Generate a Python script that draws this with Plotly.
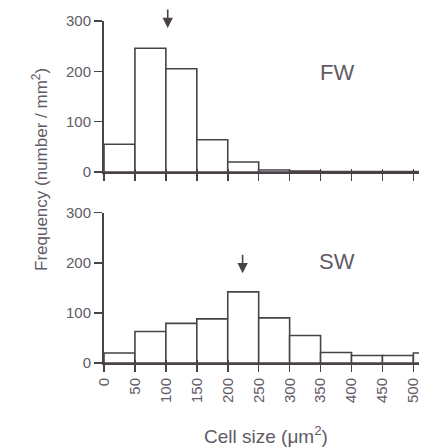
import plotly.graph_objects as go

bin_left = [0, 50, 100, 150, 200, 250, 300, 350, 400, 450, 500]
fw_freq = [55, 246, 205, 64, 20, 4, 2, 1, 1, 1, 1]
sw_freq = [20, 63, 79, 88, 142, 90, 55, 21, 15, 15, 20]
x_ticks = [0, 50, 100, 150, 200, 250, 300, 350, 400, 450, 500]
y_ticks = [0, 100, 200, 300]
fw_mean = 103
sw_mean = 224

INK = "#4a4249"
TXT = "#625a66"
FONT = "Liberation Sans, Arial, sans-serif"
BW = 50

# page body has an 8px default margin; shift everything by it
OFF = 8
L, R, T, B = 104 - OFF, 0, 21 - OFF, 85
W, H = 427 - OFF, 448 - OFF
PW, PH = W - L - R, H - T - B


def px_x(p):
    return (p - OFF - L) / PW


def px_y(p):
    return (H - B - (p - OFF)) / PH


fig = go.Figure()
fig.add_trace(go.Bar(x=[b + BW / 2 for b in bin_left], y=fw_freq, width=BW,
                     marker=dict(color="white", line=dict(color=INK, width=1.6)),
                     xaxis="x", yaxis="y", showlegend=False, hoverinfo="skip"))
fig.add_trace(go.Bar(x=[b + BW / 2 for b in bin_left], y=sw_freq, width=BW,
                     marker=dict(color="white", line=dict(color=INK, width=1.6)),
                     xaxis="x2", yaxis="y2", showlegend=False, hoverinfo="skip"))

xcommon = dict(range=[0, 522], tickvals=x_ticks, ticks="outside", ticklen=7,
               tickwidth=1.5, tickcolor=INK, showline=True, linecolor=INK,
               linewidth=2, showgrid=False, zeroline=False, automargin=False,
               tickfont=dict(family=FONT, size=15, color=TXT))
ycommon = dict(range=[0, 300], tickvals=y_ticks, ticks="outside", ticklen=8,
               tickwidth=1.5, tickcolor=INK, showline=True, linecolor=INK,
               linewidth=2, showgrid=False, zeroline=False, automargin=False,
               tickfont=dict(family=FONT, size=15, color=TXT))
inner = dict(range=[0, 522], tickvals=x_ticks, ticks="inside", ticklen=3,
             tickwidth=1.5, tickcolor=INK, showticklabels=False,
             showline=False, showgrid=False, zeroline=False, automargin=False,
             side="bottom")

fig.update_layout(
    width=W, height=H, autosize=False,
    margin=dict(l=L, r=R, t=T, b=B, autoexpand=False),
    plot_bgcolor="white", paper_bgcolor="white",
    bargap=0, hovermode=False,
    xaxis=dict(xcommon, domain=[0, 1], anchor="y", showticklabels=False),
    yaxis=dict(ycommon, domain=[px_y(172), 1], anchor="x"),
    xaxis2=dict(xcommon, domain=[0, 1], anchor="y2", tickangle=-90),
    yaxis2=dict(ycommon, domain=[0, px_y(212.7)], anchor="x2"),
    xaxis3=dict(inner, overlaying="x", anchor="y"),
    xaxis4=dict(inner, overlaying="x2", anchor="y2"),
)

# invisible traces so the overlay tick axes are drawn
fig.add_trace(go.Scatter(x=[0], y=[0], xaxis="x3", yaxis="y", mode="markers",
                         marker=dict(opacity=0), showlegend=False, hoverinfo="skip"))
fig.add_trace(go.Scatter(x=[0], y=[0], xaxis="x4", yaxis="y2", mode="markers",
                         marker=dict(opacity=0), showlegend=False, hoverinfo="skip"))

centered = dict(xref="paper", yref="paper", showarrow=False,
                xanchor="center", yanchor="middle")

fig.add_annotation(text="FW", x=px_x(337), y=px_y(72.5), **centered,
                   font=dict(family=FONT, size=22, color=TXT))
fig.add_annotation(text="SW", x=px_x(337), y=px_y(261.5), **centered,
                   font=dict(family=FONT, size=22, color=TXT))

# mean arrows
fig.add_annotation(x=fw_mean, y=286, xref="x", yref="y", text="", showarrow=True,
                   ax=0, ay=-20, arrowhead=2, arrowsize=1.3, arrowwidth=1.6,
                   arrowcolor=INK)
fig.add_annotation(x=sw_mean, y=179, xref="x2", yref="y2", text="", showarrow=True,
                   ax=0, ay=-20, arrowhead=2, arrowsize=1.3, arrowwidth=1.6,
                   arrowcolor=INK)

# axis titles
fig.add_annotation(text="Frequency (number / mm<sup>2</sup>)", textangle=-90,
                   x=px_x(40), y=px_y(170), **centered,
                   font=dict(family=FONT, size=17, color=TXT))
fig.add_annotation(text="Cell size (\u03bcm<sup>2</sup>)",
                   x=px_x(265.5), y=px_y(435), **centered,
                   font=dict(family=FONT, size=19, color=TXT))

fig.write_html("out.html", config={"displayModeBar": False, "staticPlot": True})
